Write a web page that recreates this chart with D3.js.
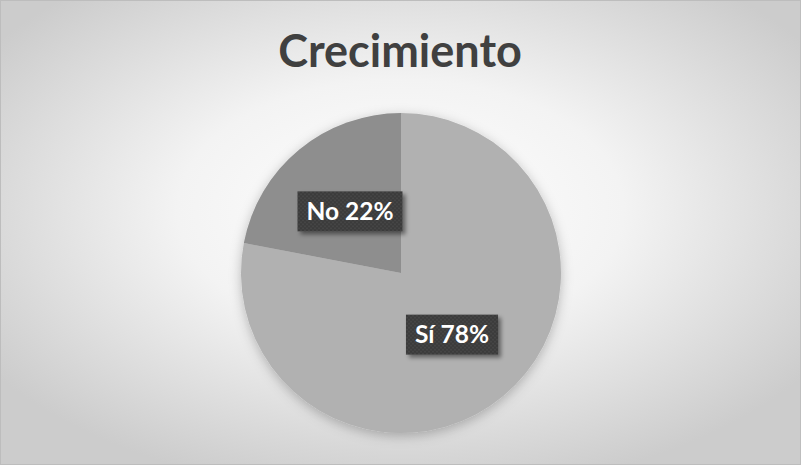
<!DOCTYPE html>
<html>
<head>
<meta charset="utf-8">
<script src="https://cdn.jsdelivr.net/npm/d3@7"></script>
<style>
  html, body { margin: 0; padding: 0; background: #fff; }
  svg { display: block; }
</style>
</head>
<body>
<div id="chart"></div>
<script>
// Datos del gráfico
const categorias = ["Sí", "No"];
const valores = [78, 22];
const titulo = "Crecimiento";

const width = 801;
const height = 465;

const svg = d3.select("#chart")
    .append("svg")
    .attr("width", width)
    .attr("height", height);

const defs = svg.append("defs");

// Fondo con degradado radial
const grad = defs.append("radialGradient")
    .attr("id", "fondo")
    .attr("cx", "50%").attr("cy", "45%").attr("r", "62%");
grad.append("stop").attr("offset", "0%").attr("stop-color", "#ffffff");
grad.append("stop").attr("offset", "45%").attr("stop-color", "#f3f3f3");
grad.append("stop").attr("offset", "100%").attr("stop-color", "#cccccc");

// Sombra suave para la tarta y las etiquetas
const sombra = defs.append("filter").attr("id", "sombra")
    .attr("x", "-20%").attr("y", "-20%").attr("width", "140%").attr("height", "140%");
sombra.append("feDropShadow")
    .attr("dx", 0).attr("dy", 3).attr("stdDeviation", 6)
    .attr("flood-color", "#000").attr("flood-opacity", 0.25);

const sombraEtiqueta = defs.append("filter").attr("id", "sombraEtiqueta")
    .attr("x", "-20%").attr("y", "-30%").attr("width", "150%").attr("height", "170%");
sombraEtiqueta.append("feDropShadow")
    .attr("dx", 3).attr("dy", 3).attr("stdDeviation", 2)
    .attr("flood-color", "#000").attr("flood-opacity", 0.45);

// Textura punteada de las etiquetas
const patron = defs.append("pattern")
    .attr("id", "puntos")
    .attr("width", 4).attr("height", 4)
    .attr("patternUnits", "userSpaceOnUse");
patron.append("rect").attr("width", 4).attr("height", 4).attr("fill", "#3b3b3b");
patron.append("circle").attr("cx", 1).attr("cy", 1).attr("r", 0.8).attr("fill", "#4f4f4f");
patron.append("circle").attr("cx", 3).attr("cy", 3).attr("r", 0.8).attr("fill", "#4f4f4f");

svg.append("rect")
    .attr("x", 0.5).attr("y", 0.5)
    .attr("width", width - 1).attr("height", height - 1)
    .attr("fill", "url(#fondo)")
    .attr("stroke", "#bdbdbd");

// Título
svg.append("text")
    .attr("x", 400)
    .attr("y", 67)
    .attr("text-anchor", "middle")
    .style("font-family", "Lato, 'Open Sans', sans-serif")
    .style("font-weight", "bold")
    .style("font-size", "45px")
    .attr("fill", "#404040")
    .text(titulo);

// Tarta
const radio = 160;
const cx = 401, cy = 273;

const colores = d3.scaleOrdinal()
    .domain(categorias)
    .range(["#b1b1b1", "#8e8e8e"]);

const pie = d3.pie().sort(null).value(d => d.valor);
const datos = categorias.map((c, i) => ({ categoria: c, valor: valores[i] }));
const arcos = pie(datos);

const arco = d3.arc().innerRadius(0).outerRadius(radio);

const g = svg.append("g").attr("transform", `translate(${cx},${cy})`);

g.append("g")
    .attr("filter", "url(#sombra)")
    .selectAll("path")
    .data(arcos)
    .enter()
    .append("path")
    .attr("d", arco)
    .attr("fill", d => colores(d.data.categoria));

// Etiquetas
const total = d3.sum(valores);
const etiquetas = g.selectAll(".etiqueta")
    .data(arcos)
    .enter()
    .append("g")
    .attr("class", "etiqueta")
    .attr("transform", d => `translate(${arco.centroid(d)})`);

etiquetas.each(function(d) {
    const e = d3.select(this);
    const caja = e.append("rect")
        .attr("fill", "url(#puntos)")
        .attr("filter", "url(#sombraEtiqueta)");
    const t = e.append("text")
        .attr("text-anchor", "middle")
        .attr("dy", "0.36em")
        .style("font-family", "Lato, 'Open Sans', sans-serif")
        .style("font-weight", "bold")
        .style("font-size", "24.5px")
        .attr("fill", "#ffffff")
        .text(d.data.categoria + " " + Math.round(d.data.valor / total * 100) + "%");
    const w = t.node().getComputedTextLength() + 18;
    caja.attr("x", -w / 2).attr("y", -20).attr("width", w).attr("height", 40);
});
</script>
</body>
</html>
